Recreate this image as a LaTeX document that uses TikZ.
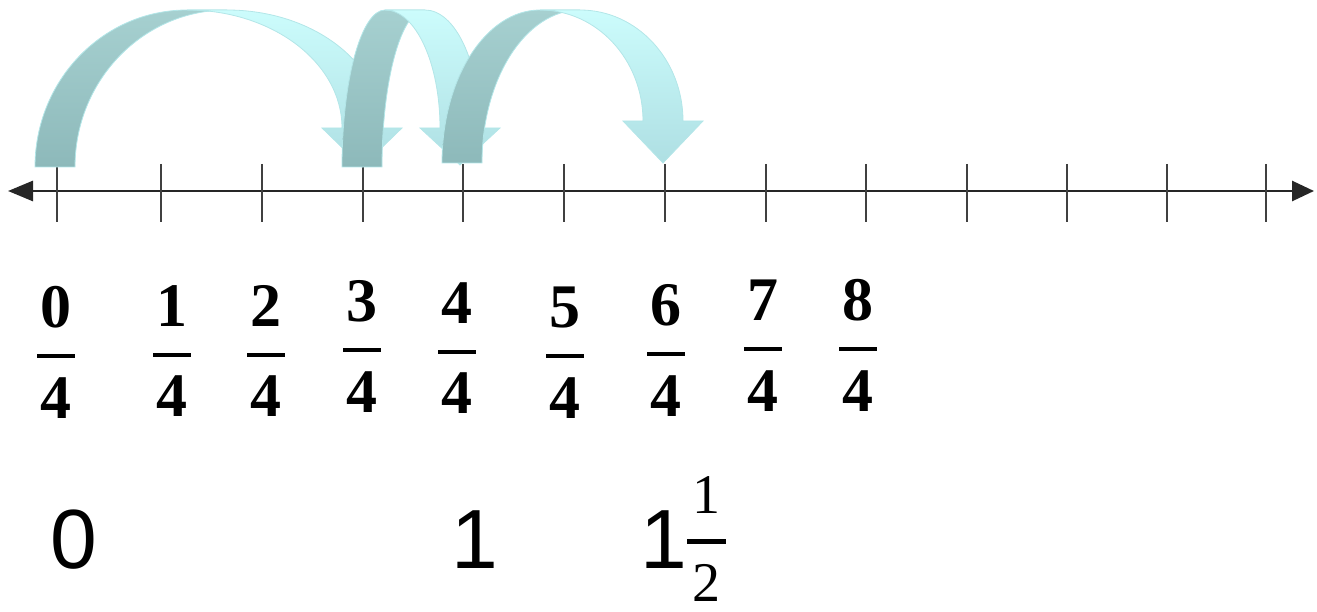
\documentclass[tikz,border=0pt]{standalone}
\usepackage{fontspec}
\setmainfont{Liberation Serif}
\newfontfamily\arialfont{Liberation Sans}
\usepackage{tikz}
\usetikzlibrary{arrows.meta}

\definecolor{backtop}{HTML}{A6D0D0}
\definecolor{backbot}{HTML}{8DB9BA}
\definecolor{fronttop}{HTML}{CCFCFC}
\definecolor{frontbot}{HTML}{AEDFE3}
\definecolor{arrowedge}{HTML}{B3E6E8}

% curved hop arrow: tail left x, top x of back band, tail base y, head centre x, head base y, tip y
\newcommand{\hoparrow}[6]{%
  \pgfmathsetmacro{\rxb}{#2-#1}
  \pgfmathsetmacro{\ryb}{601-#3}
  \pgfmathsetmacro{\rxf}{#4-20-#2}
  \pgfmathsetmacro{\ryf}{601-#5}
  \path[backband] (#1,#3)
    arc[start angle=180, end angle=90, x radius=\rxb pt, y radius=\ryb pt]
    -- ++(40,0)
    arc[start angle=90, end angle=180, x radius=\rxb pt, y radius=\ryb pt] -- cycle;
  \path[frontband] (#2,601) -- ++(40,0)
    arc[start angle=90, end angle=0, x radius=\rxf pt, y radius=\ryf pt]
    -- (#4+40,#5) -- (#4,#6) -- (#4-40,#5) -- (#4-20,#5)
    arc[start angle=0, end angle=90, x radius=\rxf pt, y radius=\ryf pt] -- cycle;
}

\begin{document}
\begin{tikzpicture}[
  x=1pt, y=1pt,
  axis/.style={line width=2.8pt, black!85, {Triangle[length=25pt,width=20pt]}-{Triangle[length=22pt,width=20pt]}},
  tick/.style={line width=2.8pt, black!75},
  backband/.style={draw=arrowedge, line width=0.8pt, top color=backtop, bottom color=backbot},
  frontband/.style={draw=arrowedge, line width=0.8pt, top color=fronttop, bottom color=frontbot},
  fracdigit/.style={font=\fontsize{62}{62}\selectfont\bfseries, inner sep=0pt, anchor=base},
  fracbar/.style={line width=4pt},
  bignum/.style={font=\arialfont\fontsize{84}{84}\selectfont, inner sep=0pt, anchor=base},
  halfdigit/.style={font=\fontsize{56}{56}\selectfont, inner sep=0pt, anchor=base}
]
  \useasboundingbox (0,0) rectangle (1317,611);

  \coordinate (left) at (8,420);
  \coordinate (right) at (1314,420);
  \draw[axis] (left) -- (right);

  \foreach \i/\x in {0/57,1/161,2/262,3/363,4/463,5/564,6/665,7/766,8/866,9/967,10/1067,11/1167,12/1266}{
    \coordinate (t\i) at (\x,420);
    \draw[tick] (\x,447) -- (\x,389);
  }

  \hoparrow{35}{187}{444}{362}{483}{444}
  \hoparrow{342}{385}{444}{460}{483}{446}
  \hoparrow{442}{540}{448}{663}{490}{448}

  \foreach \n/\x/\d in {0/56/0,1/172/1,2/266/1,3/362/6,4/457/4,5/565/0,6/666/2,7/763/7,8/858/7}{
    \node[fracdigit] (num\n) at (\x,283+\d) {\n};
    \node[fracdigit] (den\n) at (\x,193+\d) {4};
    \draw[fracbar] (\x-19,255+\d) -- (\x+19,255+\d);
  }

  \node[bignum] (zero) at (74,43) {0};
  \node[bignum] (one) at (475,43) {1};
  \node[bignum] (whole) at (664,43) {1};
  \node[halfdigit] (halfnum) at (706,98) {1};
  \node[halfdigit] (halfden) at (706,10) {2};
  \draw[fracbar, line width=5pt] (687,70) -- (726,70);
\end{tikzpicture}
\end{document}
